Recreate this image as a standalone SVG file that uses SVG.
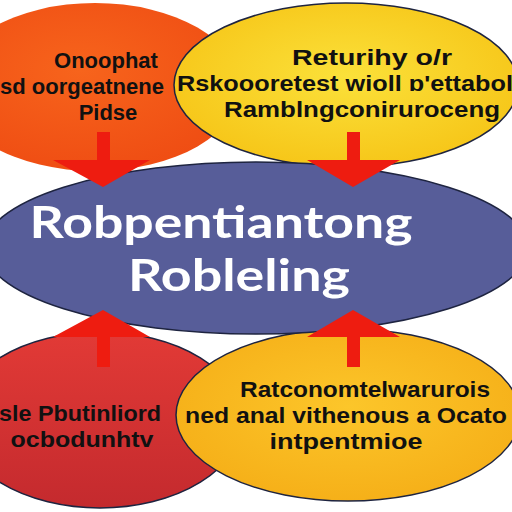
<svg xmlns="http://www.w3.org/2000/svg" width="512" height="512" viewBox="0 0 512 512">
<defs>
<radialGradient id="gOr" cx="0.45" cy="0.4" r="0.7"><stop offset="0" stop-color="#f7641c"/><stop offset="1" stop-color="#ee4a12"/></radialGradient>
<radialGradient id="gYe" cx="0.5" cy="0.45" r="0.7"><stop offset="0" stop-color="#fbe13a"/><stop offset="1" stop-color="#f5bf10"/></radialGradient>
<linearGradient id="gRd" x1="0" y1="0" x2="0" y2="1"><stop offset="0" stop-color="#e23a36"/><stop offset="1" stop-color="#c42a2e"/></linearGradient>
<radialGradient id="gYo" cx="0.5" cy="0.45" r="0.7"><stop offset="0" stop-color="#fcc62a"/><stop offset="1" stop-color="#f4aa14"/></radialGradient>
<style>
.bl{font-family:"Liberation Sans",Arial,sans-serif;font-weight:bold;font-size:22px;fill:#111;text-anchor:middle}
.wh{font-family:Lato,"Open Sans",sans-serif;font-weight:bold;font-size:44px;fill:#fff;text-anchor:middle}
.arr{fill:#ee1c10}
.edge{stroke:#1e2440;stroke-width:1.5}
</style>
</defs>
<rect width="512" height="512" fill="#fff"/>
<g id="node-top-left"><ellipse cx="95" cy="87" rx="145" ry="84" fill="url(#gOr)"/>
<text class="bl" x="106" y="68">Onoophat</text>
<text class="bl" x="82" y="94" textLength="164" lengthAdjust="spacingAndGlyphs">sd oorgeatnene</text>
<text class="bl" x="108" y="120">Pidse</text></g>
<g id="node-top-right"><ellipse cx="346" cy="85" rx="172" ry="82" fill="url(#gYe)" class="edge"/>
<text class="bl" x="372" y="65" textLength="160" lengthAdjust="spacingAndGlyphs">Returihy o/r</text>
<text class="bl" x="345" y="91" textLength="336" lengthAdjust="spacingAndGlyphs">Rskoooretest  wioll ɒ'ettabol</text>
<text class="bl" x="362" y="117" textLength="276" lengthAdjust="spacingAndGlyphs">Ramblngconiruroceng</text></g>
<g id="node-bottom-left"><ellipse cx="100" cy="420" rx="142" ry="88" fill="url(#gRd)" class="edge"/>
<text class="bl" x="80" y="421" textLength="162" lengthAdjust="spacingAndGlyphs">sle Pbutinliord</text>
<text class="bl" x="82" y="447" textLength="143" lengthAdjust="spacingAndGlyphs">ocbodunhtv</text></g>
<g id="node-bottom-right"><ellipse cx="348" cy="415" rx="172" ry="86" fill="url(#gYo)" class="edge"/>
<text class="bl" x="365" y="397" textLength="250" lengthAdjust="spacingAndGlyphs">Ratconomtelwarurois</text>
<text class="bl" x="346" y="423" textLength="322" lengthAdjust="spacingAndGlyphs">ned anal vithenous a Ocato</text>
<text class="bl" x="346" y="449" textLength="153" lengthAdjust="spacingAndGlyphs">intpentmioe</text></g>
<g id="node-center"><ellipse cx="256" cy="248" rx="272" ry="86" fill="#575d99" class="edge"/>
<text class="wh" x="221" y="238" textLength="383" lengthAdjust="spacingAndGlyphs">Robpentiantong</text>
<text class="wh" x="239" y="291" textLength="222" lengthAdjust="spacingAndGlyphs">Robleling</text></g>
<g id="connectors">
<path class="arr" d="M97 132H110V160H150L103 187L53 160H97Z"/>
<path class="arr" d="M347 132H360V160H400L353 187L307 160H347Z"/>
<path class="arr" d="M97 367H110V337H150L103 310L53 337H97Z"/>
<path class="arr" d="M347 367H360V337H400L353 310L307 337H347Z"/>
</g>
</svg>
